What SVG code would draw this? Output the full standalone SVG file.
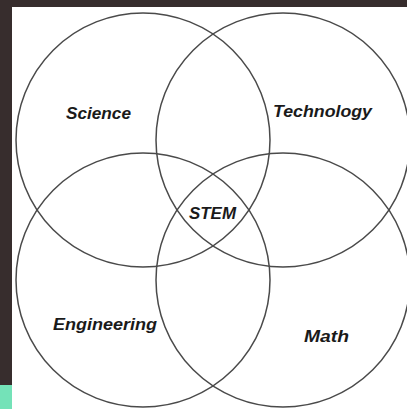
<svg xmlns="http://www.w3.org/2000/svg" width="407" height="409" viewBox="0 0 407 409">
<style>
.c{fill:none;stroke:#4a4a4a;stroke-width:1.5}
.t{font-family:"Liberation Sans",Arial,sans-serif;font-weight:bold;font-style:italic;font-size:17px;fill:#1a1a1a}
</style>
<rect x="0" y="0" width="407" height="409" fill="#ffffff"/>
<rect x="0" y="0" width="407" height="7" fill="#372d2d"/>
<rect x="0" y="0" width="12" height="385" fill="#372d2d"/>
<rect x="0" y="385" width="12" height="24" fill="#74e2b8"/>
<g id="connectors"></g>
<g id="science"><circle class="c" cx="143" cy="140" r="127"/><text class="t" x="66" y="119" textLength="65" lengthAdjust="spacingAndGlyphs">Science</text></g>
<g id="technology"><circle class="c" cx="283" cy="140" r="127"/><text class="t" x="273" y="117" textLength="99" lengthAdjust="spacingAndGlyphs">Technology</text></g>
<g id="engineering"><circle class="c" cx="143" cy="280" r="127"/><text class="t" x="53" y="330" textLength="104" lengthAdjust="spacingAndGlyphs">Engineering</text></g>
<g id="math"><circle class="c" cx="283" cy="280" r="127"/><text class="t" x="304" y="342" textLength="45" lengthAdjust="spacingAndGlyphs">Math</text></g>
<g id="stem"><text class="t" x="189" y="219" textLength="47" lengthAdjust="spacingAndGlyphs">STEM</text></g>
</svg>
